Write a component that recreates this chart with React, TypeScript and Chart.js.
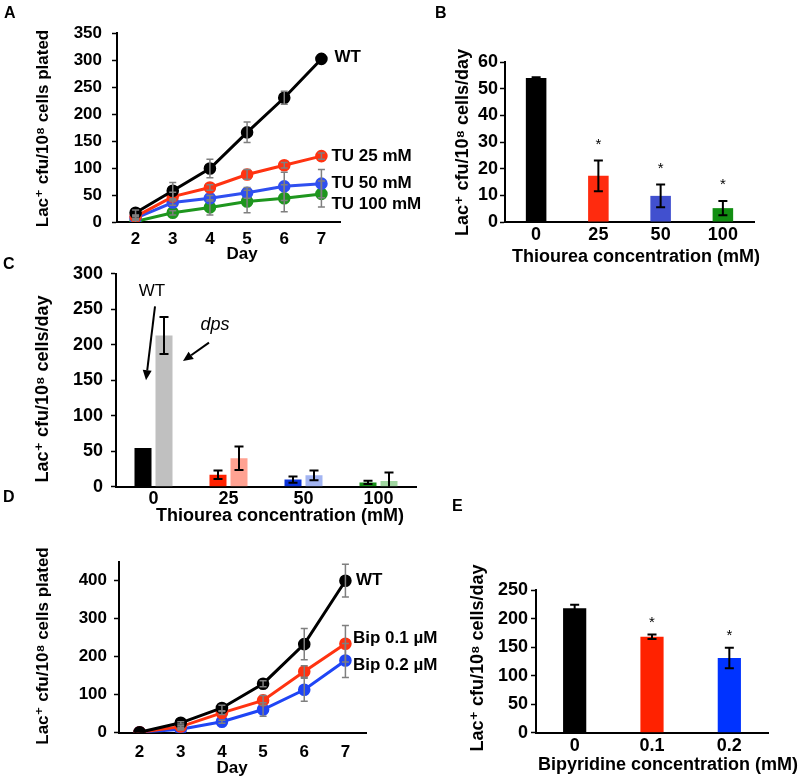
import React, { useEffect, useRef } from 'react';
import { Chart, registerables } from 'chart.js';
Chart.register(...registerables);

const FONT = "'Liberation Sans', Arial, 'DejaVu Sans', sans-serif";

// ---------- Panel A ----------
const daysA = ['2', '3', '4', '5', '6', '7'];
const wtA = [17, 58, 99, 166, 230, 302];
const wtAErr = [5, 15, 17, 19, 12, 0];
const tu25A = [10, 47, 64, 88, 105, 122];
const tu25AErr = [3, 8, 5, 9, 5, 6];
const tu50A = [7, 36, 44, 54, 66, 71];
const tu50AErr = [3, 5, 5, 10, 26, 26];
const tu100A = [1, 17, 27, 38, 44, 52];
const tu100AErr = [2, 4, 14, 21, 25, 24];
const namesA = ['WT', 'TU 25 mM', 'TU 50 mM', 'TU 100 mM'];

// ---------- Panel B ----------
const concB = ['0', '25', '50', '100'];
const rateB = [54, 17.3, 9.8, 5.2];
const rateBErr = [0.3, 5.8, 4.3, 2.7];
const sigB = [false, true, true, true];

// ---------- Panel C ----------
const concC = ['0', '25', '50', '100'];
const wtC = [54.5, 17, 10, 6];
const wtCErr = [0, 6, 4.5, 2.3];
const dpsC = [213, 40, 16, 8];
const dpsCErr = [26, 16.5, 7, 12];

// ---------- Panel D ----------
const daysD = ['2', '3', '4', '5', '6', '7'];
const wtD = [1, 26, 65, 129, 233, 400];
const wtDErr = [0, 3, 7, 8, 41, 43];
const bip01D = [1, 16, 52, 85, 161, 234];
const bip01DErr = [0, 2, 4, 13, 15, 48];
const bip02D = [1, 9, 29, 61, 113, 190];
const bip02DErr = [0, 2, 4, 18, 30, 45];
const namesD = ['WT', 'Bip 0.1 µM', 'Bip 0.2 µM'];

// ---------- Panel E ----------
const concE = ['0', '0.1', '0.2'];
const rateE = [218, 168, 131];
const rateEErr = [6, 4, 18];
const sigE = [false, true, true];

const yTitleDay = 'Lac⁺ cfu/10⁸ cells/day';
const yTitlePlated = 'Lac⁺ cfu/10⁸ cells plated';

type Geo = {
  cl: number; ct: number; cw: number; ch: number;
  L: number; R: number; T: number; B: number;
  yTitleX: number; yTitleY: number; xTitleX: number; xTitleY: number;
  xTickY: number; yLabelRight: number; fs: number;
};

function baseOptions(g: Geo, yMax: number, yStep: number) {
  const lh = g.fs * 1.2;
  const pl = g.yTitleX - lh / 2 - g.cl;
  const pb = g.ct + g.ch - g.xTitleY - lh / 2;
  const yTick = 5;
  const yPad = g.L - yTick - g.yLabelRight;
  const xPad = g.xTickY - g.B - lh / 2;
  const font: any = { family: FONT, size: g.fs, weight: 'bold' };
  return {
    responsive: false,
    animation: false,
    devicePixelRatio: 1,
    layout: { padding: { left: pl, top: g.T - g.ct, right: g.cl + g.cw - g.R, bottom: pb } },
    plugins: { legend: { display: false }, tooltip: { enabled: false } },
    scales: {
      x: {
        type: 'category',
        offset: true,
        grid: { display: false, drawTicks: false },
        border: { display: true, color: '#000', width: 2 },
        ticks: { color: '#000', font, padding: xPad, maxRotation: 0, autoSkip: false },
        title: { display: false },
        afterFit: (s: any) => { s.height = g.ct + g.ch - pb - g.B; },
      },
      y: {
        type: 'linear',
        min: 0,
        max: yMax,
        grid: { display: true, drawOnChartArea: false, drawTicks: true, tickLength: yTick, color: '#000', tickColor: '#000', tickWidth: 1.5 },
        border: { display: true, color: '#000', width: 2 },
        ticks: { stepSize: yStep, color: '#000', font, padding: yPad, includeBounds: false },
        title: { display: false },
        afterFit: (s: any) => { s.width = g.L - g.cl - pl; },
      },
    },
  };
}

// axis titles, placed where the original figure puts them
function titlePlugin(g: Geo, xTitle: string, yTitle: string) {
  return {
    id: 'axisTitles',
    afterDraw(chart: any) {
      const ctx = chart.ctx;
      ctx.save();
      ctx.fillStyle = '#000';
      ctx.font = `bold ${g.fs}px ${FONT}`;
      ctx.textAlign = 'center';
      ctx.textBaseline = 'middle';
      ctx.fillText(xTitle, g.xTitleX - g.cl, g.xTitleY - g.ct);
      ctx.translate(g.yTitleX - g.cl, g.yTitleY - g.ct);
      ctx.rotate(-Math.PI / 2);
      ctx.fillText(yTitle, 0, 0);
      ctx.restore();
    },
  };
}

function errorPlugin(color: string, cap: number, lw: number) {
  return {
    id: 'errorBars',
    afterDatasetsDraw(chart: any) {
      const ctx = chart.ctx;
      const ys = chart.scales.y;
      const area = chart.chartArea;
      ctx.save();
      ctx.strokeStyle = color;
      ctx.lineWidth = lw;
      chart.data.datasets.forEach((ds: any, i: number) => {
        const errs = ds.errors;
        if (!errs) return;
        const meta = chart.getDatasetMeta(i);
        meta.data.forEach((el: any, j: number) => {
          const e = errs[j];
          if (!e) return;
          const v = ds.data[j];
          const x = el.x;
          const y1 = Math.min(ys.getPixelForValue(v - e), area.bottom);
          const y2 = ys.getPixelForValue(v + e);
          ctx.beginPath();
          ctx.moveTo(x, y1);
          ctx.lineTo(x, y2);
          ctx.moveTo(x - cap / 2, y2);
          ctx.lineTo(x + cap / 2, y2);
          if (v - e >= 0) {
            ctx.moveTo(x - cap / 2, y1);
            ctx.lineTo(x + cap / 2, y1);
          }
          ctx.stroke();
        });
      });
      ctx.restore();
    },
  };
}

function endLabelPlugin(labels: { text: string; ds: number; dx: number; dy: number }[], size: number) {
  return {
    id: 'endLabels',
    afterDatasetsDraw(chart: any) {
      const ctx = chart.ctx;
      ctx.save();
      ctx.fillStyle = '#000';
      ctx.font = `bold ${size}px ${FONT}`;
      ctx.textAlign = 'left';
      ctx.textBaseline = 'middle';
      labels.forEach((l) => {
        const meta = chart.getDatasetMeta(l.ds);
        const el = meta.data[meta.data.length - 1];
        ctx.fillText(l.text, el.x + l.dx, el.y + l.dy);
      });
      ctx.restore();
    },
  };
}

function starPlugin(flags: boolean[], gap: number) {
  return {
    id: 'stars',
    afterDatasetsDraw(chart: any) {
      const ctx = chart.ctx;
      const ys = chart.scales.y;
      const ds = chart.data.datasets[0];
      const meta = chart.getDatasetMeta(0);
      ctx.save();
      ctx.fillStyle = '#000';
      ctx.font = `15px ${FONT}`;
      ctx.textAlign = 'center';
      ctx.textBaseline = 'middle';
      flags.forEach((f, j) => {
        if (!f) return;
        const el = meta.data[j];
        const top = ys.getPixelForValue(ds.data[j] + (ds.errors ? ds.errors[j] : 0));
        ctx.fillText('*', el.x, top - gap);
      });
      ctx.restore();
    },
  };
}

function arrowPlugin() {
  // annotation positions: [category index, pixel offset from category centre, value]
  const texts = [
    { text: 'WT', at: [0, -1.5, 275], font: `17px ${FONT}` },
    { text: 'dps', at: [0, 61.5, 228], font: `italic 18px ${FONT}` },
  ];
  const arrows = [
    { from: [0, 1.5, 254], to: [0, -7.5, 150] },
    { from: [0, 55.5, 203], to: [0, 29.5, 177] },
  ];
  return {
    id: 'arrows',
    afterDatasetsDraw(chart: any) {
      const ctx = chart.ctx;
      const xs = chart.scales.x;
      const ys = chart.scales.y;
      const pt = (a: number[]) => [xs.getPixelForValue(a[0]) + a[1], ys.getPixelForValue(a[2])];
      ctx.save();
      ctx.fillStyle = '#000';
      ctx.strokeStyle = '#000';
      ctx.textAlign = 'center';
      ctx.textBaseline = 'middle';
      texts.forEach((t) => {
        const [x, y] = pt(t.at);
        ctx.font = t.font;
        ctx.fillText(t.text, x, y);
      });
      arrows.forEach((a) => {
        const [x1, y1] = pt(a.from);
        const [x2, y2] = pt(a.to);
        const ang = Math.atan2(y2 - y1, x2 - x1);
        const hl = 10, hw = 4.5;
        const bx = x2 - hl * Math.cos(ang), by = y2 - hl * Math.sin(ang);
        ctx.lineWidth = 2;
        ctx.beginPath();
        ctx.moveTo(x1, y1);
        ctx.lineTo(bx, by);
        ctx.stroke();
        ctx.beginPath();
        ctx.moveTo(x2, y2);
        ctx.lineTo(bx + hw * Math.sin(ang), by - hw * Math.cos(ang));
        ctx.lineTo(bx - hw * Math.sin(ang), by + hw * Math.cos(ang));
        ctx.closePath();
        ctx.fill();
      });
      ctx.restore();
    },
  };
}

function lineDs(data: number[], err: number[], color: string) {
  return {
    data,
    errors: err,
    borderColor: color,
    backgroundColor: color,
    pointBackgroundColor: color,
    pointBorderColor: color,
    pointRadius: 4.8,
    borderWidth: 3,
    tension: 0,
  };
}

const GEO_A: Geo = { cl: 0, ct: 0, cw: 430, ch: 270, L: 117, R: 340, T: 33, B: 222, yTitleX: 43, yTitleY: 128.5, xTitleX: 242, xTitleY: 254, xTickY: 239, yLabelRight: 102, fs: 17 };
const GEO_B: Geo = { cl: 425, ct: 0, cw: 375, ch: 270, L: 505, R: 754, T: 62, B: 222, yTitleX: 463, yTitleY: 142.5, xTitleX: 636, xTitleY: 257, xTickY: 235, yLabelRight: 498, fs: 18 };
const GEO_C: Geo = { cl: 0, ct: 255, cw: 440, ch: 275, L: 116, R: 416, T: 270, B: 486.7, yTitleX: 43, yTitleY: 389, xTitleX: 280, xTitleY: 516, xTickY: 499, yLabelRight: 103, fs: 18 };
const GEO_D: Geo = { cl: 0, ct: 540, cw: 450, ch: 241, L: 119, R: 366, T: 561.7, B: 732.7, yTitleX: 43, yTitleY: 646, xTitleX: 232, xTitleY: 768, xTickY: 752, yLabelRight: 107, fs: 17 };
const GEO_E: Geo = { cl: 430, ct: 540, cw: 370, ch: 241, L: 536, R: 768, T: 590, B: 732.7, yTitleX: 478, yTitleY: 658, xTitleX: 668, xTitleY: 765, xTickY: 746, yLabelRight: 528, fs: 18 };

function buildA(c: HTMLCanvasElement) {
  return new Chart(c, {
    type: 'line',
    data: {
      labels: daysA,
      datasets: [
        lineDs(wtA, wtAErr, '#000000'),
        lineDs(tu25A, tu25AErr, '#FF3311'),
        lineDs(tu50A, tu50AErr, '#2F4FF0'),
        lineDs(tu100A, tu100AErr, '#1E961E'),
      ] as any,
    },
    options: baseOptions(GEO_A, 350, 50) as any,
    plugins: [
      errorPlugin('#7F7F7F', 7, 1.5),
      endLabelPlugin([
        { text: namesA[0], ds: 0, dx: 13, dy: -2 },
        { text: namesA[1], ds: 1, dx: 10, dy: 0 },
        { text: namesA[2], ds: 2, dx: 10, dy: 0 },
        { text: namesA[3], ds: 3, dx: 10, dy: 10 },
      ], 17),
      titlePlugin(GEO_A, 'Day', yTitlePlated),
    ],
  });
}

function buildB(c: HTMLCanvasElement) {
  return new Chart(c, {
    type: 'bar',
    data: {
      labels: concB,
      datasets: [{
        data: rateB,
        errors: rateBErr,
        backgroundColor: ['#000000', '#FF2B0E', '#4150CF', '#128E12'],
        borderWidth: 0,
        barPercentage: 1,
        categoryPercentage: 0.33,
      }] as any,
    },
    options: baseOptions(GEO_B, 60, 10) as any,
    plugins: [errorPlugin('#000', 9, 2), starPlugin(sigB, 16), titlePlugin(GEO_B, 'Thiourea concentration (mM)', yTitleDay)],
  });
}

function buildC(c: HTMLCanvasElement) {
  return new Chart(c, {
    type: 'bar',
    data: {
      labels: concC,
      datasets: [
        {
          data: wtC,
          errors: wtCErr,
          backgroundColor: ['#000000', '#FF2200', '#0A32D8', '#178F17'],
          borderWidth: 0,
          barPercentage: 0.81,
          categoryPercentage: 0.56,
        },
        {
          data: dpsC,
          errors: dpsCErr,
          backgroundColor: ['#C0C0C0', '#FFA292', '#A3B5F2', '#A0D6A0'],
          borderWidth: 0,
          barPercentage: 0.81,
          categoryPercentage: 0.56,
        },
      ] as any,
    },
    options: baseOptions(GEO_C, 300, 50) as any,
    plugins: [errorPlugin('#000', 9, 2), arrowPlugin(), titlePlugin(GEO_C, 'Thiourea concentration (mM)', yTitleDay)],
  });
}

function buildD(c: HTMLCanvasElement) {
  return new Chart(c, {
    type: 'line',
    data: {
      labels: daysD,
      datasets: [
        lineDs(wtD, wtDErr, '#000000'),
        lineDs(bip01D, bip01DErr, '#FF3311'),
        lineDs(bip02D, bip02DErr, '#1F45F5'),
      ] as any,
    },
    options: baseOptions(GEO_D, 450, 100) as any,
    plugins: [
      errorPlugin('#7F7F7F', 7, 1.5),
      endLabelPlugin([
        { text: namesD[0], ds: 0, dx: 10.5, dy: 0 },
        { text: namesD[1], ds: 1, dx: 7.5, dy: -5 },
        { text: namesD[2], ds: 2, dx: 7.5, dy: 4.5 },
      ], 17),
      titlePlugin(GEO_D, 'Day', yTitlePlated),
    ],
  });
}

function buildE(c: HTMLCanvasElement) {
  return new Chart(c, {
    type: 'bar',
    data: {
      labels: concE,
      datasets: [{
        data: rateE,
        errors: rateEErr,
        backgroundColor: ['#000000', '#FF2200', '#0033FF'],
        borderWidth: 0,
        barPercentage: 1,
        categoryPercentage: 0.3,
      }] as any,
    },
    options: baseOptions(GEO_E, 250, 50) as any,
    plugins: [errorPlugin('#000', 9, 2), starPlugin(sigE, 11.5), titlePlugin(GEO_E, 'Bipyridine concentration (mM)', yTitleDay)],
  });
}

const panelLetters = [
  { t: 'A', x: 4, y: 5 },
  { t: 'B', x: 435, y: 5 },
  { t: 'C', x: 3, y: 256 },
  { t: 'D', x: 3, y: 489 },
  { t: 'E', x: 452, y: 498 },
];

export default function App() {
  const rA = useRef<HTMLCanvasElement>(null);
  const rB = useRef<HTMLCanvasElement>(null);
  const rC = useRef<HTMLCanvasElement>(null);
  const rD = useRef<HTMLCanvasElement>(null);
  const rE = useRef<HTMLCanvasElement>(null);

  useEffect(() => {
    const charts = [
      buildA(rA.current!),
      buildB(rB.current!),
      buildC(rC.current!),
      buildD(rD.current!),
      buildE(rE.current!),
    ];
    return () => charts.forEach((ch) => ch.destroy());
  }, []);

  const cv = (g: Geo, r: any) => (
    <canvas ref={r} width={g.cw} height={g.ch}
      style={{ position: 'absolute', left: g.cl, top: g.ct, width: g.cw, height: g.ch }} />
  );

  return (
    <div style={{ position: 'absolute', left: 0, top: 0, width: 800, height: 781, background: '#fff', overflow: 'hidden' }}>
      {cv(GEO_A, rA)}
      {cv(GEO_B, rB)}
      {cv(GEO_C, rC)}
      {cv(GEO_D, rD)}
      {cv(GEO_E, rE)}
      {panelLetters.map((p) => (
        <div key={p.t} style={{ position: 'absolute', left: p.x, top: p.y, font: `bold 16px ${FONT}`, lineHeight: '16px', color: '#000' }}>{p.t}</div>
      ))}
    </div>
  );
}
